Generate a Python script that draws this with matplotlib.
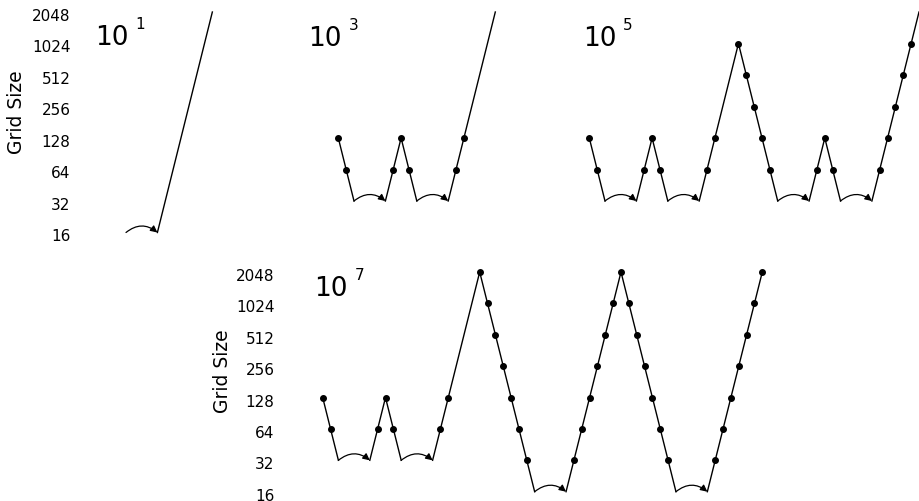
import matplotlib
matplotlib.use("Agg")
import matplotlib.pyplot as plt
import matplotlib.transforms as mtransforms
import numpy as np

# W-cycle paths: step index and grid size, dot = marker drawn at that point
# consecutive equal sizes = coarse solve (drawn as a curved arrow)
exponents = [1, 3, 5, 7]

x_e1 = [0, 4, 11]
n_e1 = [16, 16, 2048]
dot_e1 = [0, 0, 0]

x_e3 = [0, 1, 2, 6, 7, 8, 9, 10, 14, 15, 16, 20]
n_e3 = [128, 64, 32, 32, 64, 128, 64, 32, 32, 64, 128, 2048]
dot_e3 = [1, 1, 0, 0, 1, 1, 1, 0, 0, 1, 1, 0]

x_e5 = [0, 1, 2, 6, 7, 8, 9, 10, 14, 15, 16, 19, 20, 21, 22, 23, 24,
        28, 29, 30, 31, 32, 36, 37, 38, 39, 40, 41, 42]
n_e5 = [128, 64, 32, 32, 64, 128, 64, 32, 32, 64, 128, 1024, 512, 256, 128, 64, 32,
        32, 64, 128, 64, 32, 32, 64, 128, 256, 512, 1024, 2048]
dot_e5 = [1, 1, 0, 0, 1, 1, 1, 0, 0, 1, 1, 1, 1, 1, 1, 1, 0,
          0, 1, 1, 1, 0, 0, 1, 1, 1, 1, 1, 0]

x_e7 = [0, 1, 2, 6, 7, 8, 9, 10, 14, 15, 16, 20, 21, 22, 23, 24, 25, 26, 27,
        31, 32, 33, 34, 35, 36, 37, 38, 39, 40, 41, 42, 43, 44, 45,
        49, 50, 51, 52, 53, 54, 55, 56]
n_e7 = [128, 64, 32, 32, 64, 128, 64, 32, 32, 64, 128, 2048, 1024, 512, 256, 128, 64, 32, 16,
        16, 32, 64, 128, 256, 512, 1024, 2048, 1024, 512, 256, 128, 64, 32, 16,
        16, 32, 64, 128, 256, 512, 1024, 2048]
dot_e7 = [1, 1, 0, 0, 1, 1, 1, 0, 0, 1, 1, 1, 1, 1, 1, 1, 1, 1, 0,
          0, 1, 1, 1, 1, 1, 1, 1, 1, 1, 1, 1, 1, 1, 0,
          0, 1, 1, 1, 1, 1, 1, 1]

grid_sizes = [16, 32, 64, 128, 256, 512, 1024, 2048]

W, H = 919, 502
STEP = 7.85  # px per step

fig = plt.figure(figsize=(W / 100, H / 100), dpi=100)


def make_axes(left, right, u0, y16, y2048):
    ppl = (y16 - y2048) / 7.0
    bottom = H - y16 - 0.3 * ppl
    height = 7.6 * ppl
    ax = fig.add_axes([left / W, bottom / H, (right - left) / W, height / H])
    ax.set_yscale('log', base=2)
    ax.set_xlim((left - u0) / STEP, (right - u0) / STEP)
    ax.set_ylim(2 ** 3.7, 2 ** 11.3)
    ax.patch.set_visible(False)
    for sp in ax.spines.values():
        sp.set_visible(False)
    ax.set_xticks([])
    ax.set_yticks([])
    ax.minorticks_off()
    return ax


def draw(ax, xs, ns, dots):
    xs = np.array(xs, dtype=float)
    ns = np.array(ns, dtype=float)
    dots = np.array(dots, dtype=bool)
    start = 0
    for i in range(len(xs) - 1):
        if ns[i] == ns[i + 1]:
            if i > start:
                ax.plot(xs[start:i + 1], ns[start:i + 1], color='k', lw=1, clip_on=False)
            ax.annotate('', xy=(xs[i + 1], ns[i + 1]), xytext=(xs[i], ns[i]),
                        arrowprops=dict(arrowstyle='-|>', connectionstyle='arc3,rad=-0.4',
                                        shrinkA=0, shrinkB=0, lw=0.9, color='k',
                                        mutation_scale=10))
            start = i + 1
    if start < len(xs) - 1:
        ax.plot(xs[start:], ns[start:], color='k', lw=1, clip_on=False)
    ax.plot(xs[dots], ns[dots], 'o', color='k', ms=4, clip_on=False)


def y_ticks(ax):
    ax.set_yticks(grid_sizes)
    ax.set_yticklabels([str(g) for g in grid_sizes], fontsize=11)
    ax.minorticks_off()
    ax.tick_params(axis='y', length=0, pad=4)
    shift = mtransforms.ScaledTranslation(0, -2 / 100, fig.dpi_scale_trans)
    for lab in ax.get_yticklabels():
        lab.set_transform(lab.get_transform() + shift)


ax1 = make_axes(76, 213, 126.0, 233.5, 13.0)
draw(ax1, x_e1, n_e1, dot_e1)
y_ticks(ax1)

ax3 = make_axes(290, 496, 338.3, 233.5, 13.0)
draw(ax3, x_e3, n_e3, dot_e3)

ax5 = make_axes(565, 919, 589.3, 233.5, 13.0)
draw(ax5, x_e5, n_e5, dot_e5)

ax7 = make_axes(280, 763, 322.7, 492.7, 273.0)
draw(ax7, x_e7, n_e7, dot_e7)
y_ticks(ax7)

# panel labels: base "10" with a small raised exponent
label_pos = [(95, 45), (308.5, 46.5), (583, 46.5), (314.5, 296.5)]
for e, (px, py) in zip(exponents, label_pos):
    fig.text(px / W, 1 - py / H, '10', fontsize=19, va='baseline', ha='left')
    fig.text((px + 40) / W, 1 - (py - 16) / H, str(e), fontsize=11, va='baseline', ha='left')

fig.text(17 / W, 1 - 112 / H, 'Grid Size', rotation=90, fontsize=13.5, ha='center', va='center')
fig.text(222 / W, 1 - 371.5 / H, 'Grid Size', rotation=90, fontsize=13.5, ha='center', va='center')

fig.savefig('out.png', dpi=100)
